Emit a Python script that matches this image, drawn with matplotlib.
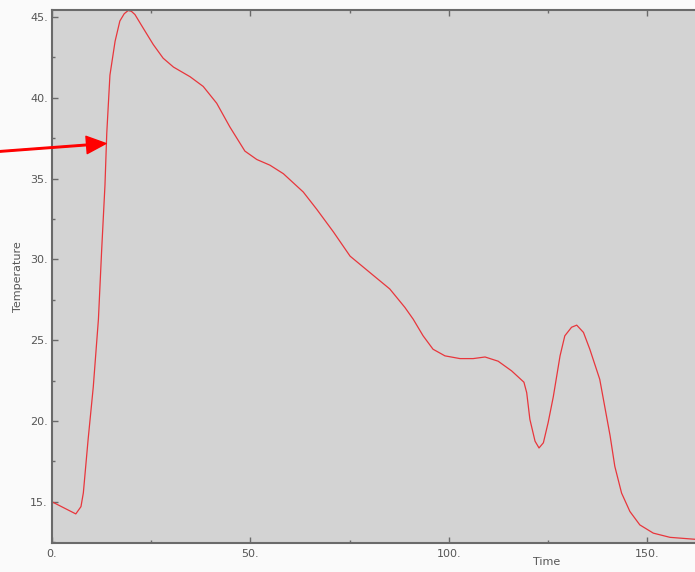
import matplotlib
matplotlib.use('Agg')
import matplotlib.pyplot as plt
from matplotlib.ticker import MultipleLocator, FuncFormatter

# temperature history
time = [0, 6.0, 7.3, 7.9, 9.1, 10.4, 11.7, 12.5, 13.35, 13.8, 14.6, 15.9, 17.1,
        18.2, 19.2, 20.0, 20.9, 23.0, 25.5, 28.0, 30.6, 34.8, 38.1, 41.5, 44.8,
        48.6, 51.6, 54.9, 58.3, 63.3, 66.7, 70.9, 75.1, 81.0, 85.1, 88.9, 91.0,
        93.5, 96.0, 99.0, 102.8, 106.1, 109.1, 112.4, 115.8, 118.9, 119.6,
        120.4, 121.7, 122.7, 123.8, 125.0, 126.3, 128.0, 129.2, 130.9, 132.2,
        133.9, 135.5, 138.0, 140.6, 141.8, 143.5, 145.6, 148.1, 151.5, 155.7,
        162.0]
temperature = [15.0, 14.25, 14.7, 15.55, 18.85, 22.1, 26.3, 30.5, 34.6, 37.8,
               41.4, 43.5, 44.75, 45.2, 45.4, 45.35, 45.15, 44.3, 43.3, 42.45,
               41.9, 41.3, 40.7, 39.66, 38.2, 36.7, 36.18, 35.83, 35.3, 34.17,
               33.1, 31.7, 30.2, 29.0, 28.17, 27.03, 26.3, 25.27, 24.44, 24.03,
               23.86, 23.86, 23.96, 23.7, 23.1, 22.4, 21.75, 20.1, 18.75, 18.33,
               18.65, 19.9, 21.5, 24.03, 25.27, 25.8, 25.93, 25.48, 24.44, 22.58,
               19.1, 17.19, 15.54, 14.4, 13.57, 13.06, 12.8, 12.68]

# arrow pointing at the rising edge
arrow_tail = (-13.1, 36.68)
arrow_tip = (13.6, 37.17)

text_col = '#555555'
spine_col = '#6a6a6a'

fig = plt.figure(figsize=(6.95, 5.72), dpi=100, facecolor='#fafafa')
ax = fig.add_axes([0.0748, 0.0507, 0.9252, 0.9318])
ax.set_facecolor('#d3d3d3')

ax.plot(time, temperature, color='#e8363c', lw=0.9)

ax.annotate('', xy=arrow_tip, xytext=arrow_tail, annotation_clip=False,
            arrowprops=dict(facecolor='#ff0000', edgecolor='#ff0000',
                            width=1.1, headwidth=12.5, headlength=14))

ax.set_xlim(0, 162)
ax.set_ylim(12.45, 45.43)

ax.xaxis.set_major_locator(MultipleLocator(50))
ax.xaxis.set_minor_locator(MultipleLocator(25))
ax.yaxis.set_major_locator(MultipleLocator(5))
ax.yaxis.set_minor_locator(MultipleLocator(2.5))
fmt = FuncFormatter(lambda v, p: f'{v:.0f}.')
ax.xaxis.set_major_formatter(fmt)
ax.yaxis.set_major_formatter(fmt)

ax.tick_params(which='both', direction='in', top=True, right=False,
               color=spine_col, labelcolor=text_col, labelsize=8)
ax.tick_params(which='major', length=4, width=1)
ax.tick_params(which='minor', length=2, width=1)
ax.tick_params(axis='x', pad=4)
ax.tick_params(axis='y', pad=3)

for side in ['left', 'bottom', 'top']:
    ax.spines[side].set_color(spine_col)
    ax.spines[side].set_linewidth(1.5)
ax.spines['right'].set_visible(False)

ax.set_xlabel('Time', color=text_col, fontsize=8, va='top')
ax.xaxis.set_label_coords(0.77, -0.026)
ax.set_ylabel('Temperature', color=text_col, fontsize=8)
ax.yaxis.set_label_coords(-0.045, 0.5)

fig.savefig('out.png', dpi=100, facecolor=fig.get_facecolor())
